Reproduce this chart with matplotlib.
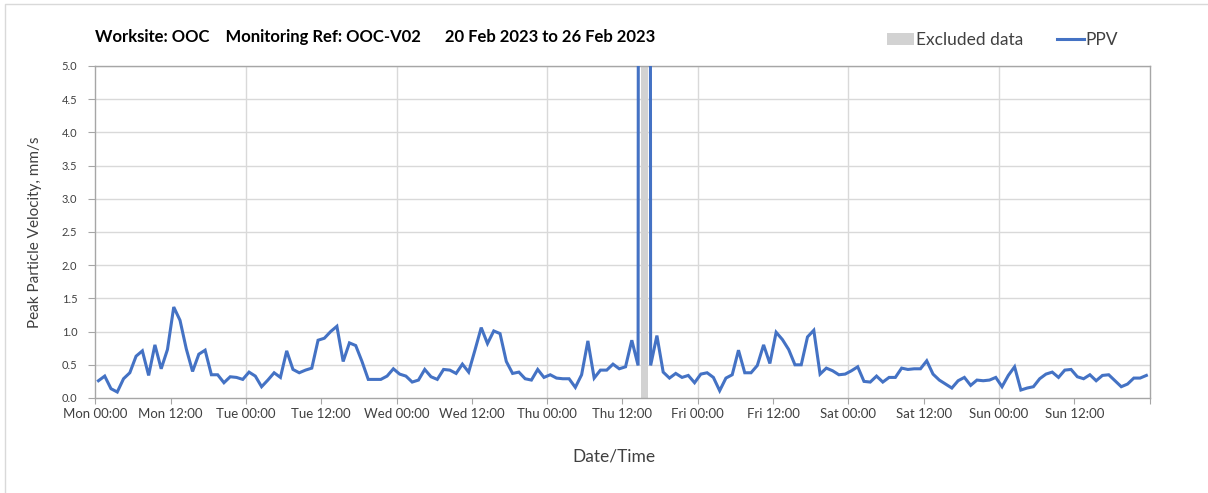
import numpy as np
import matplotlib
matplotlib.use('Agg')
import matplotlib.pyplot as plt
from matplotlib.patches import Patch
from matplotlib.lines import Line2D

plt.rcParams['font.family'] = ['Lato', 'DejaVu Sans']

# hourly PPV readings (mm/s), Mon 00:00 -> Sun 23:00
# hour 87 (Thu 15:00) is an off-scale excluded reading
ppv = [
    0.26, 0.33, 0.14, 0.09, 0.29, 0.38, 0.63, 0.71, 0.34, 0.80, 0.44, 0.73,
    1.37, 1.17, 0.74, 0.40, 0.66, 0.72, 0.35, 0.35, 0.23, 0.32, 0.31, 0.28,
    0.39, 0.33, 0.17, 0.27, 0.38, 0.31, 0.71, 0.43, 0.38, 0.42, 0.45, 0.87,
    0.90, 1.00, 1.08, 0.55, 0.83, 0.79, 0.55, 0.28, 0.28, 0.28, 0.33, 0.44,
    0.36, 0.33, 0.24, 0.27, 0.43, 0.32, 0.28, 0.43, 0.42, 0.37, 0.51, 0.39,
    0.72, 1.06, 0.82, 1.01, 0.97, 0.55, 0.37, 0.39, 0.29, 0.27, 0.43, 0.31,
    0.35, 0.30, 0.29, 0.29, 0.16, 0.35, 0.86, 0.30, 0.42, 0.42, 0.51, 0.44,
    0.47, 0.87, 0.49, 150.0, 0.49, 0.94, 0.39, 0.30, 0.37, 0.31, 0.34, 0.23,
    0.36, 0.38, 0.31, 0.11, 0.30, 0.35, 0.72, 0.38, 0.38, 0.49, 0.80, 0.52,
    0.99, 0.88, 0.73, 0.50, 0.50, 0.92, 1.02, 0.36, 0.45, 0.41, 0.35, 0.36,
    0.41, 0.47, 0.25, 0.24, 0.33, 0.24, 0.31, 0.31, 0.45, 0.43, 0.44, 0.44,
    0.56, 0.36, 0.27, 0.21, 0.15, 0.26, 0.31, 0.19, 0.27, 0.26, 0.27, 0.31,
    0.17, 0.34, 0.47, 0.12, 0.15, 0.17, 0.29, 0.36, 0.39, 0.31, 0.42, 0.43,
    0.32, 0.29, 0.35, 0.26, 0.34, 0.35, 0.26, 0.17, 0.21, 0.30, 0.30, 0.34,
]
excluded_hours = [87]
days = ['Mon', 'Tue', 'Wed', 'Thu', 'Fri', 'Sat', 'Sun']
y_ticks = [0.0, 0.5, 1.0, 1.5, 2.0, 2.5, 3.0, 3.5, 4.0, 4.5, 5.0]

blue = '#4472C4'
grey_band = '#d2d2d2'
grid_c = '#d9d9d9'
axis_c = '#a6a6a6'
text_c = '#404040'

hours = np.arange(len(ppv)) + 0.5  # readings plotted at the middle of each hour

fig = plt.figure(figsize=(12.08, 4.93), dpi=100)
ax = fig.add_axes([95.3 / 1208, 1 - 398 / 493, (1149.5 - 95.3) / 1208, (398 - 66) / 493])

# grid
for v in y_ticks[1:]:
    ax.axhline(v, color=grid_c, lw=1, zorder=0)
for d in range(1, len(days)):
    ax.axvline(d * 24, color=grid_c, lw=1, zorder=0)

for h in excluded_hours:
    ax.axvspan(h, h + 1.05, color=grey_band, lw=0, zorder=1)

ax.plot(hours, ppv, color=blue, lw=2.2, zorder=3, solid_joinstyle='miter')

ax.set_xlim(0, 168)
ax.set_ylim(0, 5)

xt = np.arange(0, 169, 12)
xl = []
for t in xt:
    if t >= 168:
        xl.append('')
    else:
        xl.append(f"{days[t // 24]} {t % 24:02d}:00")
ax.set_xticks(xt)
ax.set_xticklabels(xl, fontsize=9.5, color=text_c)
ax.set_yticks(y_ticks)
ax.set_yticklabels([f"{v:.1f}" for v in y_ticks], fontsize=8, color=text_c)

ax.tick_params(axis='x', direction='out', length=4, color=axis_c, pad=3)
ax.tick_params(axis='y', direction='out', length=5, color=axis_c, pad=8)
for s in ax.spines.values():
    s.set_color(axis_c)
    s.set_linewidth(1)

ax.set_xlabel('Date/Time', fontsize=12.5, color=text_c)
ax.xaxis.set_label_coords((614 - 95.3) / 1054, -(457 - 398) / 332, transform=ax.transAxes)
ax.xaxis.label.set_va('center')
ax.set_ylabel('Peak Particle Velocity, mm/s', fontsize=11, color=text_c, labelpad=14)

fig.text(95 / 1208, 1 - 37 / 493, 'Worksite: OOC    Monitoring Ref: OOC-V02      20 Feb 2023 to 26 Feb 2023',
         fontsize=12, fontweight='bold', color='black', ha='left', va='center')

handles = [Patch(facecolor=grey_band, edgecolor='none'),
           Line2D([0], [0], color=blue, lw=2.2)]
fig.legend(handles, ['Excluded data', 'PPV'], loc='center right',
           bbox_to_anchor=(1134 / 1208, 1 - 40 / 493), ncol=2, frameon=False,
           fontsize=12.5, labelcolor=text_c, handlelength=1.55, handletextpad=0.1,
           columnspacing=1.95)

# outer frame
fig.add_artist(Line2D([5 / 1208, 5 / 1208, 1], [0, 1 - 4 / 493, 1 - 4 / 493],
                      transform=fig.transFigure, color=grid_c, lw=1))

fig.savefig('out.png', dpi=100)
